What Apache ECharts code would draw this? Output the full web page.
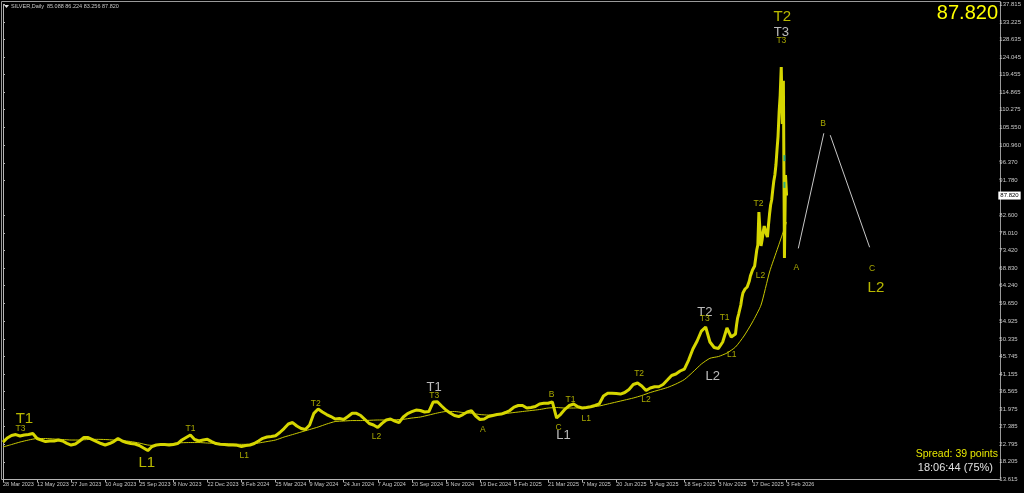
<!DOCTYPE html>
<html><head><meta charset="utf-8">
<script src="https://cdn.jsdelivr.net/npm/echarts@6/dist/echarts.min.js"></script>
<style>html,body{margin:0;padding:0;background:#000;}#c{width:1024px;height:493px;}</style>
</head><body><div id="c"></div><script>
const dateLabels = ['28 Mar 2023','12 May 2023','27 Jun 2023','10 Aug 2023','25 Sep 2023','8 Nov 2023','22 Dec 2023','8 Feb 2024','25 Mar 2024','9 May 2024','24 Jun 2024','7 Aug 2024','20 Sep 2024','5 Nov 2024','19 Dec 2024','5 Feb 2025','21 Mar 2025','7 May 2025','20 Jun 2025','5 Aug 2025','18 Sep 2025','3 Nov 2025','17 Dec 2025','3 Feb 2026'];
const barsPerLabel = 32;
const priceTicks = [13.615,18.205,22.795,27.385,31.975,36.565,41.155,45.745,50.335,54.925,59.650,64.240,68.830,73.420,78.010,82.600,91.780,96.370,100.960,105.550,110.275,114.865,119.455,124.045,128.635,133.225,137.815];

// closes sampled every 4 bars (bars 0..688)
const closeStep4 = [23.38,24.43,25.08,25.34,24.95,25.21,25.34,25.61,24.30,23.91,
23.51,23.65,23.65,23.91,23.65,23.04,22.60,22.86,23.65,24.56,
24.56,24.04,23.51,22.99,22.60,22.99,23.51,24.30,23.65,23.25,
22.99,22.86,22.47,21.81,21.16,22.21,22.60,22.73,22.73,22.60,
22.73,22.99,23.91,24.56,25.21,24.04,23.65,23.91,24.09,23.51,
22.99,22.78,22.73,22.60,22.60,22.52,22.21,22.47,22.60,22.99,
23.65,24.35,24.69,24.82,25.03,25.87,26.91,28.09,28.48,27.57,
26.91,26.65,27.83,30.89,32.01,31.23,30.57,30.05,29.40,29.53,
29.27,30.05,30.89,30.89,30.31,29.27,28.22,27.83,27.17,28.27,
29.14,29.40,28.87,28.48,29.92,30.83,31.31,31.75,31.62,31.23,
31.36,33.84,33.92,32.80,31.75,30.97,30.31,30.05,30.57,31.23,
31.57,30.18,29.27,29.40,30.05,30.31,30.57,30.70,31.10,31.62,
32.53,32.93,32.93,32.27,32.40,32.66,33.32,33.50,33.53,33.89,
29.66,30.70,32.01,32.93,33.32,32.59,32.27,32.40,32.61,32.93,
33.32,35.41,36.12,36.12,36.06,35.93,36.33,37.11,38.42,38.81,
38.02,36.85,37.50,37.84,37.84,38.42,39.59,40.77,41.16,41.95,
42.47,44.82,47.70,49.79,52.40,53.45,49.53,48.09,47.83,49.53,
53.19,50.83,51.62];
// daily closes for the last bars (bars 689..736)
const dailyStart = 689;
const closeDaily = [53.97,55.80,56.85,57.11,59.20,61.03,62.34,62.86,63.38,63.65,
63.91,64.17,65.48,66.78,67.57,68.35,68.87,69.40,71.49,73.58,
74.89,83.51,78.81,74.63,76.19,78.29,79.85,78.81,77.76,76.98,
80.12,82.99,85.34,86.65,89.27,91.62,93.19,95.80,99.72,103.38,
109.66,114.10,121.42,106.50,117.80,71.49,93.19,87.82];
// moving average, every 8 bars
const maStep = 8;
const movingAvg = [22.08,22.73,23.38,23.91,24.30,24.30,24.17,24.04,23.91,23.91,
24.04,24.09,24.04,23.91,23.78,23.51,23.12,22.60,22.47,22.73,
22.99,23.20,23.25,23.25,23.12,23.04,22.94,22.86,22.78,22.78,
23.12,23.51,23.91,24.69,25.34,26.00,26.65,27.31,28.09,28.74,
28.87,29.00,29.00,29.06,29.14,29.14,29.21,29.32,29.66,29.92,
30.44,30.97,31.36,31.36,31.10,30.89,30.57,30.44,30.57,30.83,
31.10,31.36,31.62,31.88,32.27,32.40,32.27,32.27,32.40,32.53,
32.80,33.32,33.84,34.36,34.89,35.54,36.33,36.98,37.63,38.55,
39.72,41.68,43.78,45.27,45.74,46.65,48.22,51.10,54.76,59.20,
67.83,74.36,80.90];
const lastClose = 87.82;
// projected A-B-C path
const projBar = [747, 771, 777, 814];
const projPrice = [74.0, 104.1, 103.6, 74.3];
// cyan marks
const cyanBar = [734, 734];
const cyanPrice = [97.6, 90.6];
// wave annotations
const annoText = ['T1','T3','L1','T1','L1','T2','L2','T1','T3','A','B','C','L1','T1','L1','T2','L2','T2','T3','T1','L1','L2','T2','L2','T2','T3','T3','A','B','C','L2'];
const annoBar = [20.1,16.4,135.0,176.1,226.6,293.8,350.8,405.0,405.0,450.8,515.3,521.8,526.5,533.0,547.9,597.5,604.0,659.2,659.2,677.8,684.4,666.6,709.6,711.5,732.0,731.1,731.1,745.1,770.3,816.2,819.9];
const annoPrice = [29.40,26.78,17.89,26.78,19.72,33.32,24.69,37.76,35.41,26.52,35.67,27.04,25.21,34.36,29.40,41.16,34.36,57.37,55.54,55.80,46.13,40.64,85.61,66.78,134.49,130.57,128.22,68.87,106.52,68.61,63.65];
const annoKind = ['big','small','big','small','small','small','small','mid','small','small','small','small','mid','small','small','small','small','mid','small','small','small','mid','small','small','big','mid','small','small','small','small','big'];

const FONT = 'Liberation Sans';
const kindStyle = {
  big: {fontSize: 15, color: '#e6e600'},
  mid: {fontSize: 13, color: '#e8e8e8'},
  small: {fontSize: 8.5, color: '#d2d200'}
};

const priceData = closeStep4.map((v, i) => [i * 4, v])
  .concat(closeDaily.map((v, i) => [dailyStart + i, v]));
const maData = movingAvg.map((v, k) => [k * maStep, v]);
const dateTicks = dateLabels.map((_, i) => i * barsPerLabel);
const annoData = annoText.map((t, i) => ({
  name: t, value: [annoBar[i], annoPrice[i]],
  label: {fontSize: kindStyle[annoKind[i]].fontSize, color: kindStyle[annoKind[i]].color}
}));

const chart = echarts.init(document.getElementById('c'), null, {renderer: 'canvas'});
chart.setOption({
  backgroundColor: '#000',
  animation: false,
  grid: {left: 2.5, right: 23, top: 4.3, bottom: 13.6},
  xAxis: {
    type: 'value', min: 0, max: 933,
    splitLine: {show: false},
    axisLine: {show: true, lineStyle: {color: '#b4b4b4', width: 1}},
    axisTick: {show: true, customValues: dateTicks, length: 3, lineStyle: {color: '#b4b4b4'}},
    axisLabel: {
      customValues: dateTicks, color: '#c8c8c8', fontSize: 5.5, fontFamily: FONT,
      align: 'left', margin: 2,
      formatter: v => dateLabels[Math.round(v / barsPerLabel)] || ''
    }
  },
  yAxis: {
    type: 'value', position: 'right', min: 13.615, max: 137.815,
    splitLine: {show: false},
    axisLine: {show: true, lineStyle: {color: '#b4b4b4', width: 1}},
    axisTick: {show: true, customValues: priceTicks, length: 2, lineStyle: {color: '#b4b4b4'}},
    axisLabel: {
      customValues: priceTicks, color: '#c8c8c8', fontSize: 6, fontFamily: FONT, margin: 3,
      formatter: v => v.toFixed(3)
    }
  },
  series: [
    {
      type: 'line', data: maData, showSymbol: false, smooth: 0.2,
      lineStyle: {color: '#c8c800', width: 1}, z: 2
    },
    {
      type: 'line', data: priceData, showSymbol: false,
      lineStyle: {color: '#d6d600', width: 3}, z: 3,
      markLine: {
        silent: true, symbol: 'none',
        lineStyle: {color: 'rgba(0,0,0,0)', width: 1, type: 'solid'},
        data: [{yAxis: lastClose}],
        label: {
          show: true, position: 'end', distance: 2, formatter: lastClose.toFixed(3),
          backgroundColor: '#ffffff', color: '#000', fontSize: 6, fontFamily: FONT, padding: [1, 2]
        }
      }
    },
    {
      type: 'line', data: [[projBar[0], projPrice[0]], [projBar[1], projPrice[1]]],
      showSymbol: false, lineStyle: {color: '#c8c8c8', width: 1}
    },
    {
      type: 'line', data: [[projBar[2], projPrice[2]], [projBar[3], projPrice[3]]],
      showSymbol: false, lineStyle: {color: '#c8c8c8', width: 1}
    },
    {
      type: 'scatter', data: cyanBar.map((b, i) => [b, cyanPrice[i]]),
      symbol: 'rect', symbolSize: [2, 6], itemStyle: {color: '#00a0a0'}, z: 4
    },
    {
      type: 'scatter', data: annoData, symbol: 'circle', symbolSize: 1,
      itemStyle: {color: 'rgba(0,0,0,0)'}, z: 5,
      label: {show: true, position: 'inside', fontFamily: FONT, formatter: p => p.name}
    }
  ],
  graphic: [
    {type: 'polygon', shape: {points: [[4, 5], [9, 5], [6.5, 8]]}, style: {fill: '#e0e0e0'}},
    {type: 'text', left: 11, top: 3, style: {text: 'SILVER,Daily  85.088 86.224 83.256 87.820', fill: '#c8c8c8', font: '5.5px "Liberation Sans"'}},
    {type: 'text', right: 26, top: 3, style: {text: '87.820', fill: '#ffff00', font: '20px "Liberation Sans"'}},
    {type: 'text', right: 26, top: 449, style: {text: 'Spread: 39 points', fill: '#e6e600', font: '10.5px "Liberation Sans"'}},
    {type: 'text', right: 31, top: 462, style: {text: '18:06:44 (75%)', fill: '#e0e0e0', font: '11px "Liberation Sans"'}},
    {type: 'rect', shape: {x: 1.5, y: 1.5, width: 999, height: 478}, style: {fill: 'none', stroke: '#9a9a9a', lineWidth: 1}, silent: true}
  ]
});
</script></body></html>
